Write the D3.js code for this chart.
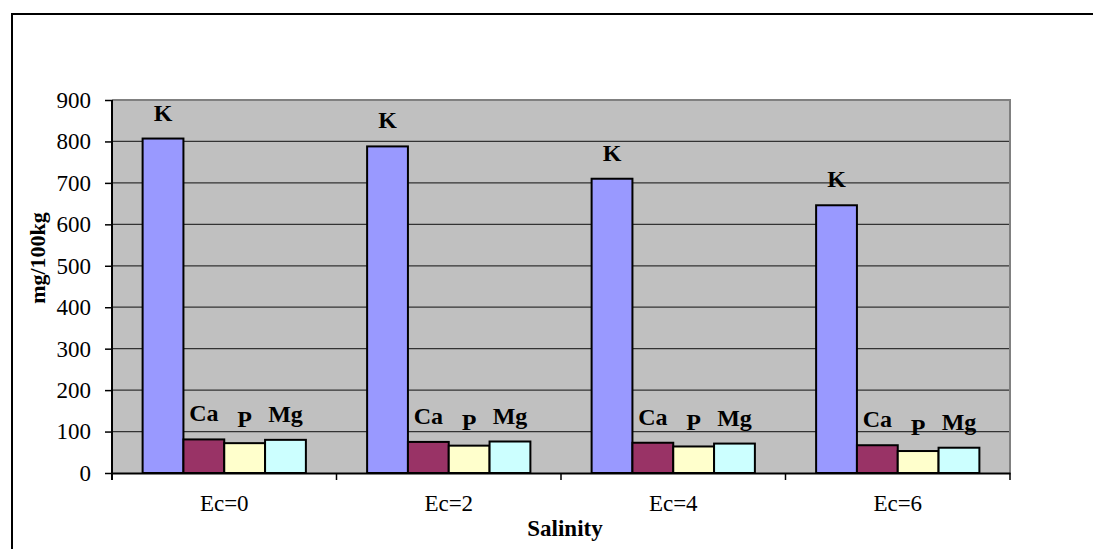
<!DOCTYPE html>
<html>
<head>
<meta charset="utf-8">
<script src="https://cdn.jsdelivr.net/npm/d3@7"></script>
<style>
  html, body { margin: 0; padding: 0; background: #fff; }
  svg { display: block; font-family: "Liberation Serif", "Times New Roman", serif; }
</style>
</head>
<body>
<svg id="chart"></svg>
<script>
// Salinity vs. nutrient content (mg/100kg)

const width = 1093, height = 549;
const margin = { top: 100, right: 83, bottom: 76, left: 112 };
const innerWidth  = width  - margin.left - margin.right;
const innerHeight = height - margin.top  - margin.bottom;

const categories = ["Ec=0", "Ec=2", "Ec=4", "Ec=6"];
const series     = ["K", "Ca", "P", "Mg"];
const kValues    = [807, 788, 710, 646];
const caValues   = [81, 75, 73, 67];
const pValues    = [72, 66, 64, 53];
const mgValues   = [80, 76, 71, 61];
const yTicks     = [0, 100, 200, 300, 400, 500, 600, 700, 800, 900];

const colors = { K: "#9999ff", Ca: "#993366", P: "#ffffcc", Mg: "#ccffff" };
const valuesBySeries = { K: kValues, Ca: caValues, P: pValues, Mg: mgValues };

const rows = categories.map((c, i) => ({
  cat: c,
  bars: series.map(s => ({ key: s, value: valuesBySeries[s][i] }))
}));

const svg = d3.select("#chart")
  .attr("width", width)
  .attr("height", height);

// outer chart frame (runs off the right and bottom edge)
svg.append("path")
  .attr("d", `M12,${height + 5}V14H${width + 5}`)
  .attr("fill", "none")
  .attr("stroke", "#000")
  .attr("stroke-width", 2);

const g = svg.append("g")
  .attr("transform", `translate(${margin.left},${margin.top})`);

const x0 = d3.scaleBand()
  .domain(categories)
  .range([0, innerWidth])
  .padding(0);

const x1 = d3.scaleBand()
  .domain(series)
  .range([0, x0.bandwidth()])
  .paddingInner(0)
  .paddingOuter(0.75);

const y = d3.scaleLinear()
  .domain([0, 900])
  .range([innerHeight, 0]);

// plot area
g.append("rect")
  .attr("width", innerWidth)
  .attr("height", innerHeight)
  .attr("fill", "#c0c0c0");

// gridlines
g.append("g")
  .selectAll("line")
  .data(yTicks.filter(d => d > 0 && d < 900))
  .join("line")
  .attr("x1", 0)
  .attr("x2", innerWidth)
  .attr("y1", d => y(d))
  .attr("y2", d => y(d))
  .attr("stroke", "#333")
  .attr("stroke-width", 1.2);

// gray border top/right
g.append("path")
  .attr("d", `M0,0H${innerWidth}V${innerHeight}`)
  .attr("fill", "none")
  .attr("stroke", "#808080")
  .attr("stroke-width", 2);

// bars
const groups = g.selectAll(".grp")
  .data(rows)
  .join("g")
  .attr("class", "grp")
  .attr("transform", d => `translate(${x0(d.cat)},0)`);

groups.selectAll("rect")
  .data(d => d.bars)
  .join("rect")
  .attr("x", d => x1(d.key))
  .attr("y", d => y(d.value))
  .attr("width", x1.bandwidth())
  .attr("height", d => innerHeight - y(d.value))
  .attr("fill", d => colors[d.key])
  .attr("stroke", "#000")
  .attr("stroke-width", 2);

groups.selectAll("text")
  .data(d => d.bars)
  .join("text")
  .attr("x", d => x1(d.key) + x1.bandwidth() / 2)
  .attr("y", d => y(d.value) - (d.key === "P" ? 16 : 18))
  .attr("text-anchor", "middle")
  .attr("font-size", 24)
  .attr("font-weight", "bold")
  .attr("fill", "#000")
  .text(d => d.key);

// y axis
const yAxis = g.append("g")
  .call(d3.axisLeft(y).tickValues(yTicks).tickSize(7).tickPadding(14).tickSizeOuter(0));
yAxis.select(".domain").attr("stroke", "#000").attr("stroke-width", 2)
  .attr("d", `M0,0V${innerHeight + 7}`);
yAxis.selectAll(".tick line").attr("stroke", "#000").attr("stroke-width", 1.5);
yAxis.selectAll(".tick text")
  .attr("font-family", "Liberation Serif")
  .attr("font-size", 23)
  .attr("fill", "#000");

// x axis
const xAxis = g.append("g")
  .attr("transform", `translate(0,${innerHeight})`)
  .call(d3.axisBottom(x0).tickSize(0).tickPadding(22).tickSizeOuter(0));
xAxis.select(".domain").attr("stroke", "#000").attr("stroke-width", 2);
xAxis.selectAll(".tick text")
  .attr("font-family", "Liberation Serif")
  .attr("font-size", 23)
  .attr("fill", "#000");

const bounds = categories.map(c => x0(c)).concat([innerWidth]);
xAxis.append("g")
  .selectAll("line")
  .data(bounds.slice(1))
  .join("line")
  .attr("x1", d => d)
  .attr("x2", d => d)
  .attr("y1", 0)
  .attr("y2", 7)
  .attr("stroke", "#000")
  .attr("stroke-width", 1.5);

// axis titles
svg.append("text")
  .attr("x", margin.left + innerWidth / 2 + 4)
  .attr("y", 536)
  .attr("text-anchor", "middle")
  .attr("font-size", 23)
  .attr("font-weight", "bold")
  .text("Salinity");

svg.append("text")
  .attr("transform", `translate(45,258) rotate(-90)`)
  .attr("text-anchor", "middle")
  .attr("font-size", 22)
  .attr("font-weight", "bold")
  .text("mg/100kg");
</script>
</body>
</html>
